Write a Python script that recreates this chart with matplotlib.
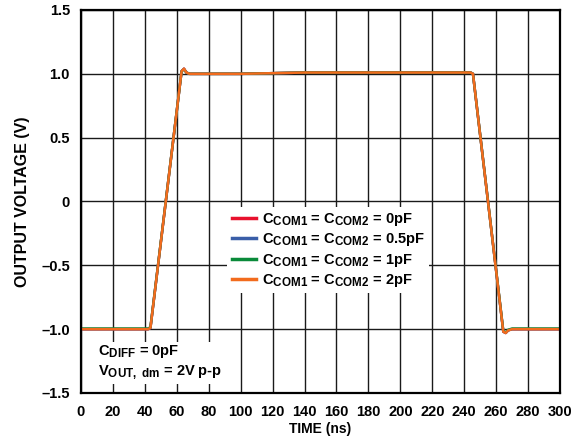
import matplotlib
matplotlib.use("Agg")
import matplotlib.pyplot as plt
import matplotlib._mathtext as _mt

_mt.SHRINK_FACTOR = 0.8

plt.rcParams['font.family'] = ['Liberation Sans', 'DejaVu Sans']
plt.rcParams['font.weight'] = 'bold'
plt.rcParams['mathtext.fontset'] = 'custom'
plt.rcParams['mathtext.rm'] = 'Liberation Sans:bold'
plt.rcParams['mathtext.it'] = 'Liberation Sans:bold'
plt.rcParams['mathtext.bf'] = 'Liberation Sans:bold'

# Data (time in ns, voltage in V)
t_0pF = [0, 42, 43.5, 63, 64.5, 66, 68, 100, 140, 200, 244, 245.5, 264.5, 266, 267.5, 270, 300]
v_0pF = [-1.0, -1.0, -0.99, 1.02, 1.04, 1.01, 1.0, 1.0, 1.01, 1.01, 1.01, 1.0, -1.02, -1.03, -1.01, -1.0, -1.0]
t_05pF = [0, 42, 43.5, 63, 64.5, 66, 68, 100, 140, 200, 244, 245.5, 264.5, 266, 267.5, 270, 300]
v_05pF = [-1.0, -1.0, -0.99, 1.02, 1.04, 1.01, 1.0, 1.0, 1.01, 1.01, 1.01, 1.0, -1.02, -1.03, -1.01, -1.0, -1.0]
t_1pF = [0, 42, 43.5, 63, 64.5, 66, 68, 100, 140, 200, 244, 245.5, 264.5, 266, 267.5, 270, 300]
v_1pF = [-0.995, -0.995, -0.985, 1.02, 1.035, 1.01, 1.0, 1.0, 1.01, 1.01, 1.01, 1.0, -1.015, -1.025, -1.005, -0.995, -0.995]
t_2pF = [0, 42, 43.5, 63, 64.5, 66, 68, 100, 140, 200, 244, 245.5, 264.5, 266, 267.5, 270, 300]
v_2pF = [-1.0, -1.0, -0.99, 1.02, 1.04, 1.01, 1.0, 1.0, 1.01, 1.01, 1.01, 1.0, -1.02, -1.03, -1.01, -1.0, -1.0]

labels = ["C$_{\\mathrm{COM1}}$ = C$_{\\mathrm{COM2}}$ = 0pF",
          "C$_{\\mathrm{COM1}}$ = C$_{\\mathrm{COM2}}$ = 0.5pF",
          "C$_{\\mathrm{COM1}}$ = C$_{\\mathrm{COM2}}$ = 1pF",
          "C$_{\\mathrm{COM1}}$ = C$_{\\mathrm{COM2}}$ = 2pF"]
colors = ['#e8112d', '#3a5ea8', '#0a8a3a', '#f26b1d']

xticks = list(range(0, 301, 20))
yticks = [-1.5, -1.0, -0.5, 0, 0.5, 1.0, 1.5]
ytick_labels = ['\u20131.5', '\u20131.0', '\u20130.5', '0', '0.5', '1.0', '1.5']

fig = plt.figure(figsize=(5.72, 4.44), dpi=100)
ax = fig.add_axes([0.1416, 0.1149, 0.8374, 0.8626])

series = [(t_0pF, v_0pF), (t_05pF, v_05pF), (t_1pF, v_1pF), (t_2pF, v_2pF)]
for (t, v), c, lab in zip(series, colors, labels):
    ax.plot(t, v, color=c, lw=1.8, label=lab, solid_joinstyle='round')

ax.set_xlim(0, 300)
ax.set_ylim(-1.5, 1.5)
ax.set_xticks(xticks)
ax.set_yticks(yticks)
ax.set_yticklabels(ytick_labels)
ax.tick_params(length=0, labelsize=10.5)
ax.tick_params(axis='x', pad=9)
ax.tick_params(axis='y', pad=8)
for lab in ax.get_xticklabels() + ax.get_yticklabels():
    lab.set_fontweight('bold')
ax.grid(True, color='#1a1a1a', lw=1.0)
ax.set_axisbelow(True)
for s in ax.spines.values():
    s.set_linewidth(1.6)
    s.set_color('black')

ax.set_xlabel('TIME (ns)', fontsize=10, fontweight='bold', labelpad=2)
ax.set_ylabel('OUTPUT VOLTAGE (V)', fontsize=11.5, fontweight='bold', labelpad=8)

leg = ax.legend(loc='upper left', bbox_to_anchor=(0.29, 0.505), fontsize=10.5,
                frameon=True, fancybox=False, handlelength=1.7, handletextpad=0.4,
                labelspacing=0.22, borderpad=0.3)
leg.get_frame().set_facecolor('white')
leg.get_frame().set_edgecolor('none')
leg.get_frame().set_alpha(1)
for line in leg.get_lines():
    line.set_linewidth(2.5)

ax.text(0.035, 0.03, "C$_{\\mathrm{DIFF}}$ = 0pF\nV$_{\\mathrm{OUT,\\ dm}}$ = 2V p-p",
        transform=ax.transAxes, fontsize=10.5, fontweight='bold', va='bottom', ha='left',
        linespacing=1.3,
        bbox=dict(facecolor='white', edgecolor='none', pad=2))

fig.savefig('out.png', dpi=100)
